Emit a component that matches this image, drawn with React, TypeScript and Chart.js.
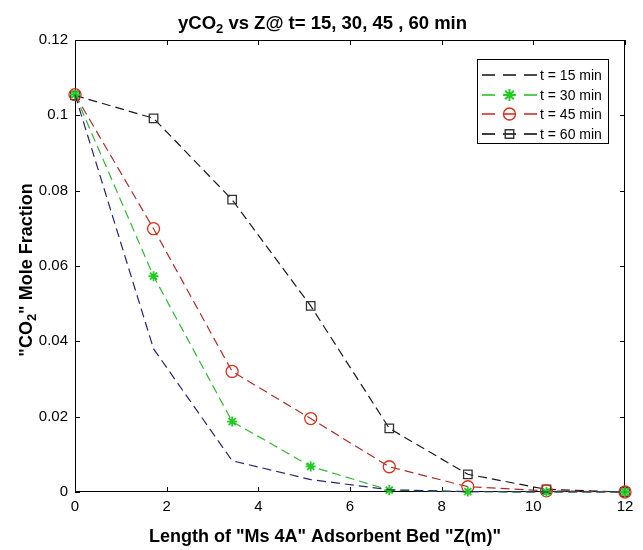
import React, { useEffect, useRef } from "react";
import { Chart, registerables } from "chart.js";

Chart.register(...registerables);

const X_M = [0, 1.714, 3.429, 5.143, 6.857, 8.571, 10.286, 12];
const T15 = [0.1055, 0.038, 0.0083, 0.0033, 0.0006, 0.0001, 0, 0];
const T30 = [0.1055, 0.0573, 0.0187, 0.0068, 0.0005, 0.0001, 0, 0];
const T45 = [0.1055, 0.0699, 0.032, 0.0195, 0.0067, 0.0014, 0.0003, 0];
const T60 = [0.1053, 0.0992, 0.0776, 0.0494, 0.0169, 0.0047, 0.0007, 0];
const LABELS = ["t = 15 min", "t = 30 min", "t = 45 min", "t = 60 min"];
// rich text segments: [text, isSubscript]
const TITLE: [string, boolean][] = [["yCO", false], ["2", true], [" vs Z@ t= 15, 30, 45 , 60 min", false]];
const X_TITLE: [string, boolean][] = [['Length of "Ms 4A" Adsorbent Bed "Z(m)"', false]];
const Y_TITLE: [string, boolean][] = [['"CO', false], ["2", true], ['" Mole Fraction', false]];
const X_TICKS = [0, 2, 4, 6, 8, 10, 12];
const Y_TICKS = [0, 0.02, 0.04, 0.06, 0.08, 0.1, 0.12];

const FONT = "'Liberation Sans', Arial, sans-serif";

function drawRich(ctx: CanvasRenderingContext2D, segs: [string, boolean][], size: number) {
  // draws centered at (0,0) baseline
  const fMain = `bold ${size}px ${FONT}`;
  const fSub = `bold ${Math.round(size * 0.72)}px ${FONT}`;
  let total = 0;
  const widths = segs.map(([t, sub]) => {
    ctx.font = sub ? fSub : fMain;
    const w = ctx.measureText(t).width;
    total += w;
    return w;
  });
  let x = -total / 2;
  ctx.textAlign = "left";
  ctx.textBaseline = "alphabetic";
  segs.forEach(([t, sub], i) => {
    ctx.font = sub ? fSub : fMain;
    ctx.fillText(t, x, sub ? size * 0.22 : 0);
    x += widths[i];
  });
}

function drawMarker(ctx: CanvasRenderingContext2D, style: string, x: number, y: number, r: number) {
  ctx.beginPath();
  if (style === "circle") {
    ctx.arc(x, y, r, 0, Math.PI * 2);
  } else if (style === "rect") {
    const s = r * 0.7071;
    ctx.rect(x - s, y - s, 2 * s, 2 * s);
  } else if (style === "star") {
    ctx.moveTo(x - r, y); ctx.lineTo(x + r, y);
    ctx.moveTo(x, y - r); ctx.lineTo(x, y + r);
    const d = r * 0.7071;
    ctx.moveTo(x - d, y - d); ctx.lineTo(x + d, y + d);
    ctx.moveTo(x - d, y + d); ctx.lineTo(x + d, y - d);
  }
  ctx.stroke();
}

const framePlugin = {
  id: "frame",
  beforeDatasetsDraw(chart: any) {
    const { ctx, chartArea: a, scales } = chart;
    ctx.save();
    ctx.strokeStyle = "#000";
    ctx.lineWidth = 1;
    ctx.setLineDash([]);
    ctx.strokeRect(a.left + 0.5, a.top + 0.5, a.right - a.left - 1, a.bottom - a.top - 1);
    const tl = 5;
    ctx.beginPath();
    X_TICKS.forEach((v) => {
      const px = Math.round(scales.x.getPixelForValue(v)) + 0.5;
      ctx.moveTo(px, a.bottom); ctx.lineTo(px, a.bottom - tl);
      ctx.moveTo(px, a.top); ctx.lineTo(px, a.top + tl);
    });
    Y_TICKS.forEach((v) => {
      const py = Math.round(scales.y.getPixelForValue(v)) + 0.5;
      ctx.moveTo(a.left, py); ctx.lineTo(a.left + tl, py);
      ctx.moveTo(a.right, py); ctx.lineTo(a.right - tl, py);
    });
    ctx.stroke();

    // titles
    ctx.fillStyle = "#000";
    ctx.save();
    ctx.translate(chart.width / 2 + 1, 29);
    drawRich(ctx, TITLE, 18.5);
    ctx.restore();
    ctx.save();
    ctx.translate(325, 542);
    drawRich(ctx, X_TITLE, 18);
    ctx.restore();
    ctx.save();
    ctx.translate(32, 270);
    ctx.rotate(-Math.PI / 2);
    drawRich(ctx, Y_TITLE, 18);
    ctx.restore();
    ctx.restore();
  },
};

const legendPlugin = {
  id: "customLegend",
  afterDraw(chart: any) {
    const { ctx, chartArea: a } = chart;
    const right = a.right - 17;
    const left = right - 131;
    const top = a.top + 19;
    const h = 84;
    ctx.save();
    ctx.fillStyle = "#fff";
    ctx.fillRect(left, top, right - left, h);
    ctx.strokeStyle = "#000";
    ctx.lineWidth = 1;
    ctx.setLineDash([]);
    ctx.strokeRect(left + 0.5, top + 0.5, right - left, h);
    const rows = [16, 36, 55, 75];
    chart.data.datasets.forEach((ds: any, i: number) => {
      const y = top + rows[i];
      const x0 = left + 5;
      const x1 = left + 60;
      ctx.strokeStyle = ds.legendColor;
      ctx.lineWidth = 1.3;
      ctx.setLineDash([13, 8]);
      ctx.beginPath();
      ctx.moveTo(x0, y); ctx.lineTo(x1, y);
      ctx.stroke();
      ctx.setLineDash([]);
      if (ds.markerStyle) {
        ctx.strokeStyle = ds.pointBorderColor;
        ctx.lineWidth = ds.markerStyle === "star" ? 2 : 1.4;
        const r = ds.markerStyle === "rect" ? 6 : 6;
        drawMarker(ctx, ds.markerStyle, (x0 + x1) / 2, y, r);
      }
      ctx.fillStyle = "#000";
      ctx.font = `14px ${FONT}`;
      ctx.textAlign = "left";
      ctx.textBaseline = "middle";
      ctx.fillText(ds.label, x1 + 3, y + 1);
    });
    ctx.restore();
  },
};

function series(vals: number[]) {
  return X_M.map((x, i) => ({ x, y: vals[i] }));
}

export default function App() {
  const ref = useRef<HTMLCanvasElement>(null);
  useEffect(() => {
    if (!ref.current) return;
    const base = {
      borderWidth: 1.2,
      borderDash: [9, 5],
      pointBackgroundColor: "rgba(0,0,0,0)",
      pointBorderWidth: 1.3,
      tension: 0,
      clip: false as any,
      fill: false,
    };
    const chart = new Chart(ref.current, {
      type: "line",
      data: {
        datasets: [
          {
            ...base,
            label: LABELS[0],
            data: series(T15),
            borderColor: "#27276e",
            legendColor: "#111",
            markerStyle: null,
            pointRadius: 0,
          } as any,
          {
            ...base,
            label: LABELS[1],
            data: series(T30),
            borderColor: "#35b535",
            legendColor: "#1fbf1f",
            markerStyle: "star",
            pointStyle: "star",
            pointRadius: 5,
            pointBorderWidth: 1.8,
            pointBorderColor: "#1fcc1f",
          } as any,
          {
            ...base,
            label: LABELS[2],
            data: series(T45),
            borderColor: "#a8302a",
            legendColor: "#d42020",
            markerStyle: "circle",
            pointStyle: "circle",
            pointRadius: 6,
            pointBorderColor: "#d8301c",
          } as any,
          {
            ...base,
            label: LABELS[3],
            data: series(T60),
            borderColor: "#1a1a1a",
            legendColor: "#000",
            markerStyle: "rect",
            pointStyle: "rect",
            pointRadius: 6,
            pointBorderColor: "#333",
          } as any,
        ],
      },
      options: {
        animation: false,
        responsive: false,
        layout: { padding: { left: 0, right: 18, top: 40, bottom: 0 } },
        plugins: {
          legend: { display: false },
          tooltip: { enabled: false },
          title: { display: false },
        },
        scales: {
          x: {
            type: "linear",
            min: 0,
            max: 12,
            afterFit: (s: any) => { s.height = 58; },
            afterBuildTicks: (s: any) => { s.ticks = X_TICKS.map((v) => ({ value: v })); },
            ticks: {
              color: "#000",
              font: { family: FONT, size: 15 },
              padding: 6,
              maxRotation: 0,
              callback: (v: any) => String(v),
            },
            grid: { display: false, drawTicks: false },
            border: { display: false },
            title: { display: false },
          },
          y: {
            type: "linear",
            min: 0,
            max: 0.12,
            afterFit: (s: any) => { s.width = 75; },
            afterBuildTicks: (s: any) => { s.ticks = Y_TICKS.map((v) => ({ value: v })); },
            ticks: {
              color: "#000",
              font: { family: FONT, size: 15 },
              padding: 7,
              callback: (v: any) => String(+Number(v).toFixed(2)),
            },
            grid: { display: false, drawTicks: false },
            border: { display: false },
            title: { display: false },
          },
        },
      } as any,
      plugins: [framePlugin, legendPlugin],
    });
    return () => chart.destroy();
  }, []);
  return (
    <div style={{ position: "absolute", left: 0, top: 0, width: 643, height: 550, background: "#fff" }}>
      <canvas ref={ref} width={643} height={550} style={{ display: "block" }} />
    </div>
  );
}
